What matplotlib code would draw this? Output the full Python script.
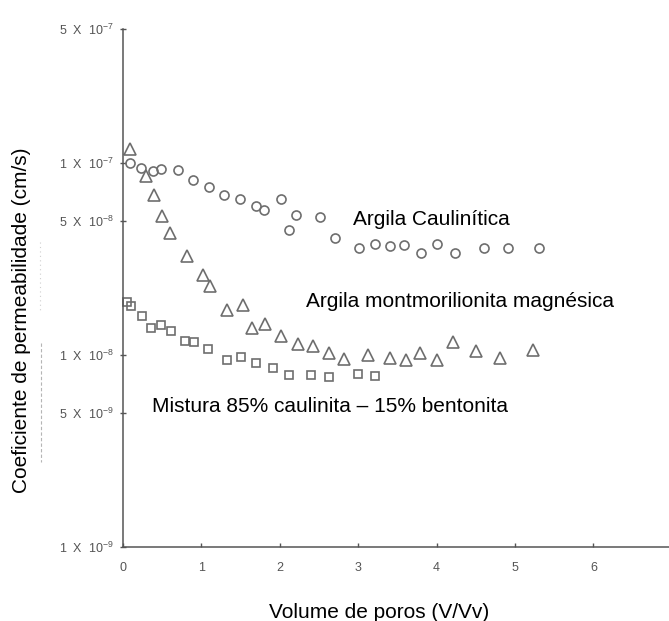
import numpy as np
import matplotlib.pyplot as plt
from matplotlib.lines import Line2D

plt.rcParams['font.family'] = ['Liberation Sans', 'DejaVu Sans']
plt.rcParams['mathtext.fontset'] = 'custom'
plt.rcParams['mathtext.rm'] = 'Liberation Sans'

# volume de poros (V/Vv) vs coeficiente de permeabilidade (cm/s)
caulinitica_x = [0.09, 0.23, 0.38, 0.49, 0.70, 0.89, 1.10, 1.29, 1.49, 1.69, 1.80,
                 2.01, 2.12, 2.21, 2.51, 2.70, 3.01, 3.21, 3.40, 3.59, 3.80, 4.00,
                 4.23, 4.61, 4.91, 5.30]
caulinitica_k = [1.0e-7, 9.4e-8, 9.1e-8, 9.3e-8, 9.2e-8, 8.2e-8, 7.5e-8, 6.8e-8,
                 6.5e-8, 6.0e-8, 5.7e-8, 6.5e-8, 4.5e-8, 5.4e-8, 5.25e-8, 4.05e-8,
                 3.6e-8, 3.8e-8, 3.7e-8, 3.75e-8, 3.4e-8, 3.8e-8, 3.4e-8, 3.6e-8,
                 3.6e-8, 3.6e-8]

montmorilonita_x = [0.09, 0.29, 0.40, 0.50, 0.60, 0.81, 1.02, 1.11, 1.32, 1.53,
                    1.64, 1.81, 2.02, 2.23, 2.42, 2.63, 2.82, 3.13, 3.41, 3.61,
                    3.79, 4.00, 4.21, 4.50, 4.81, 5.23]
montmorilonita_k = [1.18e-7, 8.6e-8, 6.8e-8, 5.3e-8, 4.3e-8, 3.27e-8, 2.6e-8,
                    2.29e-8, 1.71e-8, 1.82e-8, 1.39e-8, 1.45e-8, 1.26e-8, 1.14e-8,
                    1.12e-8, 1.02e-8, 9.5e-9, 1.0e-8, 9.6e-9, 9.4e-9, 1.03e-8,
                    9.4e-9, 1.17e-8, 1.05e-8, 9.6e-9, 1.06e-8]

mistura_x = [0.05, 0.10, 0.24, 0.36, 0.49, 0.61, 0.79, 0.91, 1.09, 1.32, 1.51,
             1.70, 1.91, 2.12, 2.40, 2.63, 3.00, 3.22]
mistura_k = [1.9e-8, 1.8e-8, 1.6e-8, 1.38e-8, 1.43e-8, 1.33e-8, 1.18e-8, 1.17e-8,
             1.07e-8, 9.4e-9, 9.8e-9, 9.1e-9, 8.6e-9, 7.9e-9, 7.9e-9, 7.7e-9,
             8.0e-9, 7.8e-9]

ytick_mant = [1, 5, 1, 5, 1, 5]
ytick_exp = [-9, -9, -8, -8, -7, -7]
xticks = [0, 1, 2, 3, 4, 5, 6, 7]

AX_COLOR = '#555555'
MK_COLOR = '#6e6e6e'
TICK_TXT = '#555555'

fig = plt.figure(figsize=(6.69, 6.21), dpi=100)
ax = fig.add_axes([0.1839, 0.1192, 0.8203, 0.8341])

mk = dict(linestyle='none', markerfacecolor='none', markeredgecolor=MK_COLOR,
          markeredgewidth=1.2, clip_on=False)
ax.plot(caulinitica_x, caulinitica_k, marker='o', markersize=6.5, **mk)
ax.plot(montmorilonita_x, montmorilonita_k, marker='^', markersize=8.5, **mk)
ax.plot(mistura_x, mistura_k, marker='s', markersize=6.3, **mk)

ax.set_yscale('log')
ax.set_ylim(1e-9, 5e-7)
ax.set_xlim(0, 7)

yticks = [m * 10.0 ** e for m, e in zip(ytick_mant, ytick_exp)]
ax.set_yticks(yticks)
ax.set_yticklabels([f'{m}  X  10$^{{\\mathregular{{{e}}}}}$'
                    for m, e in zip(ytick_mant, ytick_exp)])
ax.yaxis.set_minor_locator(plt.NullLocator())
ax.set_xticks(xticks)
ax.set_xticklabels([str(t) for t in xticks])

for side in ('top', 'right'):
    ax.spines[side].set_visible(False)
for side in ('left', 'bottom'):
    ax.spines[side].set_color(AX_COLOR)
    ax.spines[side].set_linewidth(1.1)

ax.tick_params(axis='y', direction='inout', length=5, width=1, color=AX_COLOR,
               labelcolor=TICK_TXT, labelsize=9, pad=4)
ax.tick_params(axis='x', direction='in', length=3, width=1, color=AX_COLOR,
               labelcolor=TICK_TXT, labelsize=9, pad=11)

ax.text(2.93, 4.76e-8, 'Argila Caulinítica', fontsize=15, va='baseline')
ax.text(2.34, 1.79e-8, 'Argila montmorilionita magnésica', fontsize=15, va='baseline')
ax.text(0.37, 5.05e-9, 'Mistura 85% caulinita – 15% bentonita', fontsize=15,
        va='baseline')

fig.text(379 / 669, 1 - 612 / 621, 'Volume de poros (V/Vv)', fontsize=15,
         ha='center', va='center')
fig.text(22 / 669, 1 - 320 / 621, 'Coeficiente de permeabilidade (cm/s)',
         fontsize=15, rotation=90, ha='center', va='center')

# faint leftover marks beside the y label
fig.add_artist(Line2D([41 / 669, 41 / 669], [1 - 343 / 621, 1 - 462 / 621],
                      color='#b5b5b5', lw=0.8, ls=(0, (3, 2))))
fig.add_artist(Line2D([40 / 669, 40 / 669], [1 - 242 / 621, 1 - 313 / 621],
                      color='#cfcfcf', lw=0.8, ls=(0, (1, 3))))

fig.savefig('out.png', dpi=100)
